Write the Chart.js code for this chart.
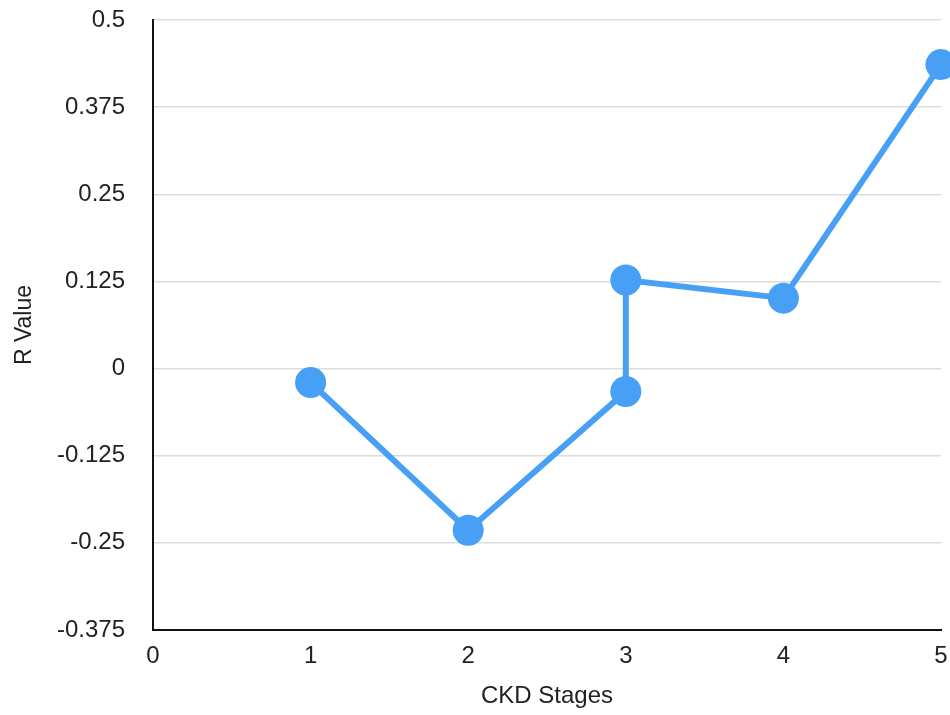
<!DOCTYPE html>
<html>
<head>
<meta charset="utf-8">
<script src="https://cdn.jsdelivr.net/npm/chart.js@4"></script>
<style>
  html, body { margin: 0; padding: 0; background: #fff; }
  #wrap { width: 950px; height: 715px; }
</style>
</head>
<body>
<div id="wrap"><canvas id="chart"></canvas></div>
<script>
// data
var stages = [1, 2, 3, 3, 4, 5];
var rValues = [-0.02, -0.232, -0.033, 0.127, 0.101, 0.436];
var yTicks = [-0.375, -0.25, -0.125, 0, 0.125, 0.25, 0.375, 0.5];
var xTicks = [0, 1, 2, 3, 4, 5];

var points = [];
for (var i = 0; i < stages.length; i++) {
    points.push({ x: stages[i], y: rValues[i] });
}

var blue = "#47a0f5";
var textFont = { family: "'Liberation Sans', Arial, sans-serif", size: 24 };

new Chart(document.getElementById("chart"), {
    type: "line",
    data: {
        datasets: [{
            data: points,
            borderColor: blue,
            backgroundColor: blue,
            borderWidth: 6,
            pointRadius: 15.5,
            pointBorderWidth: 0,
            pointBackgroundColor: blue,
            clip: false
        }]
    },
    options: {
        responsive: true,
        maintainAspectRatio: false,
        animation: false,
        layout: { autoPadding: false, padding: { top: 20, right: 9, left: 0, bottom: 0 } },
        plugins: { legend: { display: false }, tooltip: { enabled: false } },
        scales: {
            x: {
                type: "linear",
                min: 0,
                max: 5,
                afterBuildTicks: function(scale) {
                    scale.ticks = xTicks.map(function(v) { return { value: v }; });
                },
                afterFit: function(scale) {
                    scale.height = 85;
                    scale.paddingLeft = 0;
                    scale.paddingRight = 0;
                },
                grid: { display: false, drawTicks: false },
                border: { display: true, color: "#111", width: 2 },
                ticks: { color: "#222", font: textFont, padding: 12, maxRotation: 0 },
                title: {
                    display: true,
                    text: "CKD Stages",
                    color: "#222",
                    font: textFont,
                    padding: { top: 0, bottom: 4 }
                }
            },
            y: {
                min: -0.375,
                max: 0.5,
                afterBuildTicks: function(scale) {
                    scale.ticks = yTicks.map(function(v) { return { value: v }; });
                },
                afterFit: function(scale) {
                    scale.width = 153;
                    scale.paddingTop = 0;
                    scale.paddingBottom = 0;
                },
                grid: { color: "#dcdcdc", lineWidth: 1.5, drawTicks: false },
                border: { display: true, color: "#111", width: 2 },
                ticks: {
                    color: "#222",
                    font: textFont,
                    padding: 28,
                    callback: function(v) { return String(v); }
                },
                title: {
                    display: true,
                    text: "R Value",
                    color: "#222",
                    font: { family: textFont.family, size: 23 },
                    padding: { top: 11, bottom: 0 }
                }
            }
        }
    }
});
</script>
</body>
</html>
